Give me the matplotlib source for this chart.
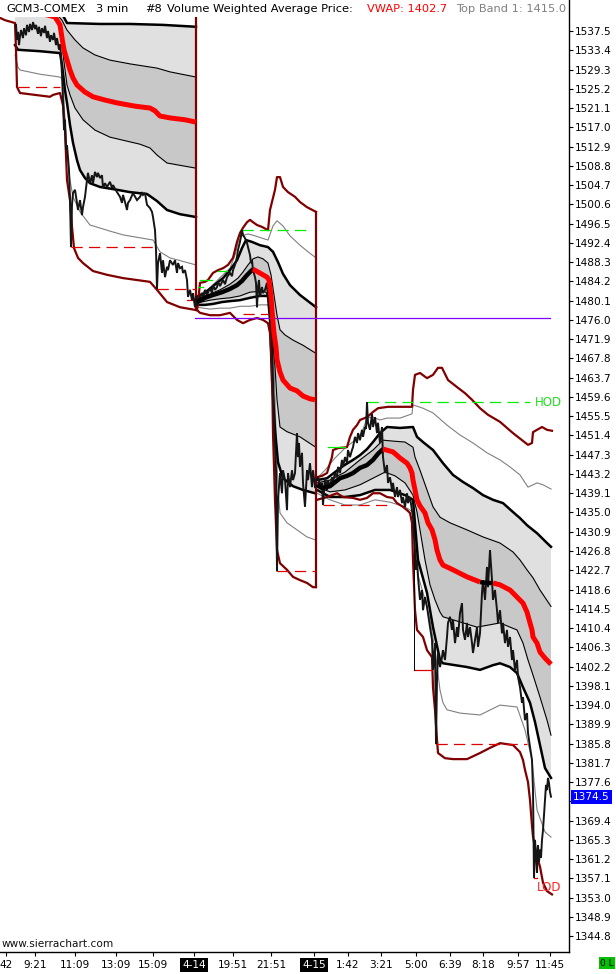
import matplotlib
matplotlib.use("Agg")
import matplotlib.pyplot as plt
from matplotlib.patches import Rectangle

plt.rcParams['font.family'] = ['DejaVu Sans']

# ---------------- axis / labels ----------------
Y_MIN, Y_MAX = 1341.44, 1544.10
Y_TICKS = [1344.8, 1348.9, 1353.0, 1357.1, 1361.2, 1365.3, 1369.4, 1373.5, 1377.6, 1381.7,
           1385.8, 1389.9, 1394.0, 1398.1, 1402.2, 1406.3, 1410.4, 1414.5, 1418.6, 1422.7,
           1426.8, 1430.9, 1435.0, 1439.1, 1443.2, 1447.3, 1451.4, 1455.5, 1459.6, 1463.7,
           1467.8, 1471.9, 1476.0, 1480.1, 1484.2, 1488.3, 1492.4, 1496.5, 1500.6, 1504.7,
           1508.8, 1512.9, 1517.0, 1521.1, 1525.2, 1529.3, 1533.4, 1537.5]
X_TICK_POS = [6, 35, 75, 116, 153, 194, 233, 271, 314, 348, 381, 416, 450, 483, 518, 550]
X_TICK_LAB = ['42', '9:21', '11:09', '13:09', '15:09', '4-14', '19:51', '21:51', '4-15',
              '1:42', '3:21', '5:00', '6:39', '8:18', '9:57', '11:45']
LAST_PRICE = 1374.5
VWAP_LAST = 1402.7
TOPBAND_LAST = 1415.0

# ---------------- segment 1 ----------------
S1_X_TOP2 = [15, 60, 67, 100, 130, 163, 196]
S1_P_TOP2 = [1543.0, 1542.0, 1539.2, 1539.0, 1539.0, 1538.8, 1538.4]
S1_X_TOP1 = [15, 55, 62, 67, 75, 83, 95, 110, 130, 157, 170, 196]
S1_P_TOP1 = [1542.4, 1541.5, 1539.8, 1537.7, 1535.6, 1533.9, 1532.4, 1531.3, 1530.5, 1529.6, 1528.8, 1527.7]
S1_X_VWAP = [15, 40, 55, 60, 62, 64, 67, 70, 73, 77, 85, 93, 105, 117, 135, 150, 155, 160, 170, 185, 196]
S1_P_VWAP = [1541.5, 1541.3, 1540.5, 1538.8, 1536.0, 1533.5, 1531.3, 1529.2, 1527.5, 1526.0, 1524.5,
             1523.5, 1522.8, 1522.2, 1521.5, 1521.1, 1520.5, 1519.4, 1519.0, 1518.6, 1518.1]
S1_X_BOT1 = [15, 40, 56, 60, 62, 64, 67, 70, 75, 83, 95, 110, 140, 150, 157, 167, 196]
S1_P_BOT1 = [1541.1, 1540.9, 1540.3, 1538.1, 1534.5, 1530.9, 1526.0, 1523.9, 1521.1, 1518.6, 1516.4,
             1514.9, 1513.4, 1512.6, 1511.1, 1509.4, 1508.3]
S1_X_BOT2 = [15, 18, 40, 60, 62, 65, 67, 70, 73, 77, 80, 85, 90, 100, 117, 130, 147, 157, 167, 180, 196]
S1_P_BOT2 = [1534.5, 1533.5, 1533.2, 1532.8, 1530.3, 1524.9, 1522.2, 1517.5, 1513.7, 1510.0, 1507.9,
             1506.2, 1505.1, 1504.3, 1503.7, 1503.2, 1502.8, 1501.3, 1499.4, 1498.5, 1497.9]
S1_X_BOT3 = [15, 18, 20, 40, 60, 63, 65, 67, 70, 73, 80, 90, 110, 123, 153, 160, 170, 196]
S1_P_BOT3 = [1532.4, 1529.8, 1529.2, 1528.3, 1527.7, 1527.1, 1518.6, 1511.5, 1505.8, 1502.2, 1499.0,
             1496.2, 1494.9, 1494.1, 1493.0, 1490.5, 1489.2, 1487.7]
S1_X_LOW = [0, 5, 15, 16, 17, 20, 50, 53, 60, 63, 65, 67, 70, 72, 74, 78, 83, 93, 107, 123, 150, 157, 167, 180, 196]
S1_P_LOW = [1540.3, 1539.8, 1539.2, 1533.5, 1525.6, 1524.3, 1523.5, 1523.9, 1524.3, 1521.7, 1516.4,
            1505.8, 1501.5, 1495.8, 1491.3, 1489.2, 1488.1, 1486.4, 1485.6, 1484.9, 1484.1, 1482.4,
            1479.8, 1478.7, 1478.1]
S1_X_PRICE = [16, 17, 18, 19, 20, 21, 23, 24, 26, 27, 29, 30, 32, 33, 35, 36, 38, 39, 41, 42, 44, 45,
              47, 48, 50, 51, 53, 54, 56, 57, 59, 60, 61, 62, 63, 64, 65, 66, 67, 69, 70, 71, 72, 73,
              75, 77, 78, 80, 82, 83, 85, 87, 88, 90, 92, 93, 95, 97, 98, 100, 102, 103, 105, 107,
              110, 112, 113, 117, 120, 122, 123, 125, 127, 128, 130, 133, 137, 140, 142, 143, 145,
              147, 150, 152, 153, 155, 156, 157, 158, 160, 162, 163, 165, 167, 168, 170, 173, 175,
              177, 178, 180, 182, 183, 185, 187, 188, 190, 192, 193, 195, 196]
S1_P_PRICE = [1538.8, 1535.6, 1537.3, 1534.5, 1536.4, 1537.7, 1536.0, 1538.1, 1536.6, 1538.8, 1537.3,
              1539.0, 1537.7, 1539.4, 1537.9, 1538.8, 1536.9, 1538.4, 1536.4, 1538.1, 1537.1, 1538.6,
              1536.0, 1537.5, 1535.2, 1536.6, 1535.6, 1537.1, 1534.5, 1536.0, 1533.5, 1534.7, 1532.4,
              1528.1, 1522.8, 1516.4, 1518.6, 1512.2, 1513.2, 1507.9, 1501.5, 1491.5, 1500.5, 1503.0,
              1503.7, 1500.9, 1499.4, 1501.5, 1498.3, 1500.0, 1502.2, 1505.8, 1507.3, 1505.1, 1506.8,
              1505.1, 1507.5, 1506.4, 1507.3, 1506.2, 1506.8, 1504.1, 1505.1, 1504.3, 1505.4, 1504.1,
              1504.7, 1503.2, 1502.2, 1500.9, 1502.6, 1501.1, 1499.4, 1500.9, 1501.5, 1503.0, 1501.5,
              1502.2, 1503.2, 1502.6, 1503.0, 1500.5, 1499.8, 1499.0, 1497.9, 1495.1, 1490.9, 1482.6,
              1488.1, 1490.2, 1486.0, 1488.7, 1485.1, 1487.3, 1486.6, 1488.7, 1487.7, 1488.7, 1486.0,
              1488.1, 1487.0, 1487.3, 1486.0, 1486.6, 1484.5, 1480.9, 1482.4, 1480.2, 1481.7, 1478.7,
              1480.9]

# ---------------- segment 2 ----------------
S2_X_VWAP_UP = [197, 205, 213, 222, 230, 237, 242, 246, 250, 253]
S2_P_VWAP_UP = [1479.8, 1480.7, 1481.3, 1481.9, 1482.6, 1483.4, 1484.3, 1485.3, 1486.2, 1486.8]
S2_X_VWAP_DN = [253, 258, 263, 267, 269, 270, 271, 272, 273, 274, 276, 277, 280, 283, 290, 297, 303, 310, 315]
S2_P_VWAP_DN = [1486.8, 1486.2, 1485.6, 1485.1, 1484.5, 1482.8, 1480.9, 1478.1, 1475.5, 1473.2, 1470.2,
                1467.5, 1464.9, 1463.2, 1461.5, 1460.9, 1459.8, 1459.2, 1459.0]
S2_X_TOP2 = [197, 205, 213, 223, 230, 237, 242, 246, 252, 260, 268, 273, 278, 283, 290, 300, 308, 316]
S2_P_TOP2 = [1480.9, 1481.7, 1483.2, 1484.9, 1486.6, 1488.7, 1491.3, 1493.0, 1492.6, 1491.9, 1491.5,
             1490.5, 1488.3, 1485.8, 1483.4, 1481.3, 1480.0, 1478.7]
S2_X_TOP3 = [197, 210, 220, 230, 235, 238, 242, 248, 255, 262, 268, 273, 277, 283, 290, 300, 308, 316]
S2_P_TOP3 = [1481.1, 1482.8, 1485.0, 1487.0, 1489.8, 1492.4, 1493.9, 1494.3, 1493.9, 1493.4, 1493.0,
             1496.0, 1497.1, 1496.0, 1493.9, 1491.9, 1490.5, 1489.2]
S2_X_TOP1 = [197, 210, 220, 230, 238, 243, 248, 253, 258, 263, 268, 271, 274, 277, 280, 285, 293, 303, 315]
S2_P_TOP1 = [1480.5, 1481.5, 1482.4, 1483.6, 1484.9, 1486.2, 1487.7, 1489.0, 1489.4, 1489.0, 1488.1,
             1485.6, 1481.3, 1477.0, 1473.9, 1472.8, 1471.7, 1470.6, 1469.0]
S2_X_BOT1 = [197, 210, 220, 230, 240, 250, 260, 266, 269, 271, 272, 275, 277, 280, 287, 300, 315]
S2_P_BOT1 = [1479.6, 1480.2, 1480.5, 1480.7, 1481.1, 1481.9, 1482.1, 1481.9, 1480.2, 1476.4, 1473.2,
             1466.0, 1459.0, 1453.2, 1452.2, 1451.1, 1449.0]
S2_X_BOT2 = [197, 205, 213, 222, 230, 240, 250, 260, 268, 270, 272, 275, 278, 283, 293, 303, 315]
S2_P_BOT2 = [1479.2, 1479.2, 1479.4, 1479.8, 1480.0, 1480.2, 1480.7, 1481.1, 1481.1, 1476.0, 1463.2,
             1452.6, 1445.7, 1442.3, 1440.6, 1439.8, 1439.1]
S2_X_BOT3 = [197, 210, 220, 230, 240, 250, 260, 268, 272, 274, 276, 278, 280, 287, 297, 307, 315]
S2_P_BOT3 = [1478.7, 1478.3, 1478.5, 1478.5, 1478.9, 1478.9, 1479.2, 1479.2, 1476.0, 1466.0, 1452.0,
             1440.0, 1434.9, 1432.8, 1431.3, 1429.8, 1429.2]
S2_X_HIGH = [197, 198, 200, 205, 208, 213, 218, 223, 228, 233, 237, 240, 243, 247, 250, 253, 257, 262,
             268, 270, 275, 277, 280, 283, 288, 295, 300, 307, 316]
S2_P_HIGH = [1478.1, 1479.6, 1483.9, 1484.1, 1484.5, 1486.0, 1486.6, 1487.0, 1487.7, 1489.2, 1492.6,
             1494.5, 1495.6, 1496.8, 1497.3, 1496.8, 1496.2, 1495.8, 1495.1, 1499.4, 1503.7, 1506.4,
             1506.4, 1504.3, 1503.2, 1502.2, 1501.1, 1500.0, 1499.0]
S2_X_LOW = [197, 200, 210, 220, 230, 237, 243, 250, 257, 263, 268, 270, 272, 273, 275, 277, 280, 287,
            293, 300, 307, 313, 316]
S2_P_LOW = [1478.1, 1477.5, 1477.0, 1477.0, 1477.5, 1476.0, 1475.3, 1476.0, 1476.4, 1476.0, 1475.3,
            1473.2, 1466.0, 1451.9, 1437.7, 1427.0, 1424.2, 1422.8, 1421.3, 1420.6, 1420.0, 1419.1, 1419.1]
S2_X_PRICE = [197, 198, 200, 202, 203, 205, 207, 210, 212, 213, 215, 217, 218, 220, 223, 225, 227, 230,
              232, 233, 235, 237, 238, 240, 242, 243, 245, 247, 248, 250, 251, 252, 253, 255, 256, 257,
              258, 259, 260, 262, 263, 265, 267, 268, 270, 271, 272, 273, 274, 275, 276, 277, 278, 280,
              282, 283, 285, 287, 288, 290, 292, 293, 295, 297, 298, 299, 300, 302, 303, 305, 307, 308,
              310, 312, 313, 315]
S2_P_PRICE = [1479.2, 1480.2, 1480.9, 1481.7, 1480.7, 1482.4, 1481.3, 1482.8, 1481.7, 1483.4, 1482.4,
              1483.0, 1484.1, 1483.2, 1484.5, 1483.6, 1485.1, 1486.0, 1485.3, 1486.6, 1487.7, 1489.4,
              1490.9, 1492.6, 1495.1, 1494.1, 1493.4, 1492.4, 1491.5, 1489.8, 1488.1, 1488.7, 1486.6,
              1485.1, 1483.9, 1478.7, 1483.0, 1484.5, 1480.9, 1483.0, 1481.7, 1482.4, 1483.9, 1480.2,
              1482.4, 1478.1, 1471.7, 1463.2, 1454.7, 1449.4, 1444.0, 1422.5, 1437.7, 1443.4, 1439.1,
              1444.0, 1441.9, 1435.5, 1443.4, 1440.4, 1444.0, 1441.9, 1443.4, 1451.9, 1446.8, 1449.8,
              1444.7, 1447.7, 1441.3, 1436.2, 1444.0, 1441.9, 1445.5, 1440.4, 1444.0, 1440.4]

# ---------------- segment 3 ----------------
S3_X_VWAP_UP1 = [317, 322, 330, 340, 347, 353, 360, 367, 373, 378, 383]
S3_P_VWAP_UP1 = [1440.9, 1440.2, 1440.6, 1442.3, 1442.8, 1443.4, 1444.5, 1445.1, 1446.2, 1447.5, 1448.5]
S3_X_VWAP_DN1 = [383, 393, 400, 407, 410, 412, 413, 415, 417, 420, 425, 428, 432, 435, 437, 440, 443, 453, 467, 480]
S3_P_VWAP_DN1 = [1448.5, 1447.9, 1446.6, 1445.5, 1444.5, 1443.4, 1441.9, 1439.8, 1437.7, 1436.4, 1434.9,
                 1432.8, 1431.3, 1429.2, 1427.0, 1424.9, 1423.8, 1422.8, 1421.3, 1420.2]
S3_X_VWAP_UP2 = [480, 487, 493]
S3_P_VWAP_UP2 = [1420.2, 1420.0, 1420.0]
S3_X_VWAP_DN2 = [493, 500, 510, 517, 523, 527, 530, 532, 533, 537, 540, 545, 551]
S3_P_VWAP_DN2 = [1420.0, 1419.6, 1418.5, 1417.0, 1415.7, 1413.8, 1411.5, 1410.0, 1408.5, 1407.2, 1405.3,
                 1404.0, 1402.7]
S3_X_TOP2 = [317, 327, 335, 343, 353, 360, 367, 373, 380, 387, 400, 413, 417, 423, 433, 443, 453, 463,
             473, 483, 493, 503, 513, 520, 527, 537, 547, 551]
S3_P_TOP2 = [1441.9, 1442.3, 1443.6, 1444.9, 1446.2, 1447.2, 1448.5, 1450.0, 1451.9, 1453.2, 1453.0,
             1453.2, 1451.1, 1450.0, 1448.3, 1445.5, 1443.0, 1441.5, 1440.2, 1438.7, 1437.7, 1437.0,
             1435.1, 1433.8, 1432.3, 1430.6, 1428.5, 1427.7]
S3_X_TOP3 = [317, 325, 335, 345, 355, 362, 367, 373, 380, 387, 400, 412, 413, 423, 433, 447, 460, 473,
             487, 500, 510, 520, 528, 533, 537, 543, 551]
S3_P_TOP3 = [1442.3, 1444.0, 1446.6, 1448.7, 1450.4, 1452.1, 1455.1, 1455.3, 1454.7, 1455.1, 1455.1,
             1456.0, 1457.9, 1457.2, 1456.2, 1453.6, 1451.5, 1449.8, 1447.7, 1446.2, 1444.7, 1443.0,
             1440.4, 1440.9, 1441.3, 1440.9, 1440.0]
S3_X_TOP1 = [317, 330, 345, 360, 373, 383, 393, 405, 413, 415, 420, 427, 433, 440, 450, 467, 483, 500,
             513, 520, 527, 533, 540, 551]
S3_P_TOP1 = [1441.3, 1441.9, 1443.6, 1446.2, 1448.3, 1450.4, 1450.2, 1450.0, 1448.9, 1446.8, 1444.0,
             1439.8, 1436.2, 1434.0, 1432.8, 1431.3, 1429.8, 1428.5, 1426.6, 1424.9, 1422.8, 1421.1,
             1418.5, 1415.0]
S3_X_BOT1 = [317, 330, 345, 360, 373, 385, 395, 405, 413, 417, 420, 425, 430, 435, 440, 443, 460, 477,
             490, 500, 510, 517, 523, 528, 533, 540, 547, 551]
S3_P_BOT1 = [1440.4, 1439.4, 1439.8, 1440.9, 1442.3, 1443.6, 1442.8, 1441.3, 1438.7, 1435.1, 1431.3,
             1424.9, 1419.6, 1416.4, 1413.8, 1412.8, 1411.7, 1410.6, 1411.1, 1411.5, 1410.6, 1410.0,
             1407.2, 1403.6, 1400.4, 1395.7, 1390.8, 1387.6]
S3_X_BOT2 = [317, 330, 345, 360, 375, 390, 405, 413, 418, 427, 433, 440, 443, 467, 480, 493, 500, 510,
             517, 523, 530, 535, 540, 545, 551]
S3_P_BOT2 = [1439.8, 1438.3, 1438.3, 1438.7, 1439.8, 1439.8, 1438.7, 1437.7, 1424.9, 1417.9, 1410.6,
             1403.6, 1402.9, 1402.1, 1401.5, 1402.5, 1402.9, 1402.1, 1400.8, 1397.8, 1394.5, 1390.4,
             1385.5, 1380.6, 1378.5]
S3_X_BOT3 = [317, 330, 345, 360, 375, 390, 405, 413, 418, 425, 430, 435, 440, 443, 447, 460, 480, 500,
             517, 525, 532, 537, 545, 551]
S3_P_BOT3 = [1439.1, 1437.7, 1436.6, 1436.6, 1437.7, 1437.2, 1436.2, 1435.1, 1421.7, 1416.4, 1412.1,
             1405.7, 1397.2, 1394.5, 1393.0, 1392.3, 1391.9, 1394.0, 1393.6, 1388.7, 1382.3, 1371.7,
             1367.0, 1365.9]
S3_X_HIGH = [317, 322, 327, 330, 332, 333, 338, 347, 350, 353, 357, 360, 367, 373, 378, 388, 400, 412,
             413, 415, 420, 427, 433, 438, 442, 448, 457, 465, 472, 480, 488, 500, 507, 513, 522, 528,
             532, 533, 537, 542, 547, 552]
S3_P_HIGH = [1442.5, 1442.8, 1443.4, 1445.5, 1446.8, 1448.3, 1448.7, 1448.9, 1451.1, 1452.6, 1453.6,
             1454.7, 1455.3, 1456.4, 1457.2, 1457.5, 1457.5, 1457.5, 1461.1, 1464.3, 1464.7, 1463.6,
             1464.3, 1465.8, 1465.8, 1463.2, 1461.7, 1460.4, 1459.0, 1457.2, 1455.8, 1454.3, 1453.0,
             1451.9, 1450.4, 1449.4, 1449.8, 1452.1, 1452.6, 1453.2, 1452.6, 1452.4]
S3_X_LOW = [317, 327, 337, 343, 353, 360, 367, 373, 380, 387, 393, 397, 400, 403, 407, 410, 412, 413,
            415, 417, 423, 427, 432, 433, 435, 437, 438, 445, 453, 467, 480, 490, 500, 513, 520, 523,
            525, 528, 530, 532, 533, 537, 540, 543, 547, 552]
S3_P_LOW = [1437.7, 1438.3, 1439.1, 1438.3, 1438.1, 1437.7, 1438.1, 1439.1, 1439.1, 1438.3, 1438.1,
            1437.0, 1436.6, 1436.2, 1435.5, 1434.9, 1432.8, 1424.9, 1414.2, 1410.0, 1408.5, 1405.7,
            1404.2, 1397.8, 1393.0, 1386.6, 1383.8, 1382.7, 1382.5, 1382.5, 1383.8, 1384.9, 1385.9,
            1385.5, 1384.0, 1382.3, 1380.2, 1377.6, 1373.8, 1368.3, 1366.0, 1361.7, 1359.6, 1356.2,
            1354.4, 1353.7]
S3_X_PRICE = [316, 318, 320, 322, 323, 325, 327, 328, 330, 332,
              333, 335, 337, 338, 340, 342, 343, 345, 347, 348,
              350, 352, 353, 355, 357, 358, 360, 362, 363, 365,
              366, 367, 368, 370, 372, 373, 375, 377, 378, 380,
              382, 383, 385, 387, 388, 390, 392, 393, 395, 397,
              398, 400, 402, 403, 405, 407, 408, 410, 412, 413,
              414, 415, 416, 417, 418, 420, 422, 423, 425, 427,
              430, 432, 433, 435, 436, 437, 438, 440, 442, 443,
              445, 447, 448, 450, 452, 453, 455, 457, 458, 460,
              462, 463, 465, 467, 468, 470, 472, 473, 475, 477,
              478, 480, 482, 483, 485, 487, 488, 490, 492, 493,
              495, 497, 498, 500, 502, 503, 505, 507, 508, 510,
              512, 513, 515, 517, 518, 520, 522, 523, 525, 527,
              528, 530, 532, 533, 534, 535, 536, 537, 538, 539,
              540, 541, 542, 543, 544, 545, 546, 547, 548, 549,
              550, 551]
S3_P_PRICE = [1441.9, 1442.5, 1440.9, 1441.3, 1436.6, 1442.3, 1439.8, 1441.9, 1440.4, 1442.5,
              1441.5, 1443.4, 1442.5, 1444.7, 1443.4, 1446.2, 1444.7, 1446.8, 1445.5, 1448.3,
              1446.8, 1448.3, 1448.9, 1451.1, 1449.8, 1451.9, 1450.4, 1452.6, 1451.1, 1453.2,
              1452.8, 1458.5, 1454.1, 1452.6, 1456.0, 1453.2, 1455.3, 1451.9, 1454.1, 1449.8,
              1453.2, 1446.8, 1443.4, 1445.1, 1441.3, 1442.5, 1439.8, 1441.3, 1438.3, 1440.4,
              1438.3, 1439.8, 1437.0, 1438.3, 1436.2, 1439.1, 1437.0, 1438.3, 1435.5, 1434.0,
              1429.8, 1427.0, 1422.8, 1424.9, 1421.3, 1416.4, 1418.5, 1414.2, 1417.0, 1414.9,
              1410.6, 1407.9, 1401.5, 1407.2, 1385.7, 1399.3, 1405.1, 1402.1, 1404.2, 1405.7,
              1403.6, 1408.5, 1411.5, 1412.8, 1410.0, 1412.1, 1407.2, 1410.6, 1408.5, 1413.6,
              1415.7, 1410.0, 1407.9, 1411.5, 1408.5, 1410.6, 1407.2, 1405.1, 1407.9, 1410.6,
              1406.4, 1409.3, 1417.9, 1420.6, 1416.4, 1423.4, 1419.1, 1427.0, 1420.6, 1416.4,
              1418.5, 1414.2, 1411.5, 1414.2, 1409.3, 1411.5, 1407.2, 1410.0, 1406.4, 1408.5,
              1403.6, 1405.7, 1401.5, 1403.6, 1400.0, 1397.8, 1394.5, 1395.7, 1390.8, 1392.3,
              1388.1, 1385.1, 1382.3, 1375.9, 1357.2, 1365.3, 1362.1, 1358.3, 1364.2, 1360.6,
              1363.2, 1361.5, 1365.3, 1367.4, 1370.6, 1373.8, 1377.0, 1375.9, 1378.5, 1377.4,
              1375.5, 1374.5]

# ---------------- markers (x0, x1, price) ----------------
LOD_DASHED = [(18, 60, 1525.6), (71, 157, 1491.5), (157, 196, 1482.6), (243, 268, 1477.3),
              (277, 316, 1422.5), (323, 393, 1436.6), (436, 527, 1385.7)]
LOD_SOLID = [(414, 432, 1401.5), (534, 537, 1357.2), (187, 195, 1480.2)]
HOD_DASHED = [(242, 310, 1495.1), (367, 530, 1458.5)]
HOD_SOLID = [(198, 203, 1483.0), (200, 212, 1484.5), (218, 227, 1486.4), (328, 345, 1448.9)]
PURPLE_LEVEL = (195, 550, 1476.3)

# ---------------- figure ----------------
W, H = 616, 974
fig = plt.figure(figsize=(W / 100, H / 100), dpi=100)
fig.patch.set_facecolor('white')
ax = fig.add_axes([0, 1 - 952 / H, 569 / W, 952 / H])
ax.set_xlim(0, 569)
ax.set_ylim(Y_MIN, Y_MAX)
ax.set_facecolor('white')

LIGHT = '#e0e0e0'
DARK = '#c8c8c8'
MAROON = '#800000'


def poly(xt, pt, xb, pb, color, z):
    xs = list(xt) + list(xb)[::-1]
    ys = list(pt) + list(pb)[::-1]
    ax.fill(xs, ys, color=color, lw=0, zorder=z)


segs = [
    (S1_X_TOP2, S1_P_TOP2, S1_X_TOP1, S1_P_TOP1, S1_X_BOT1, S1_P_BOT1, S1_X_BOT2, S1_P_BOT2),
    (S2_X_TOP2, S2_P_TOP2, S2_X_TOP1, S2_P_TOP1, S2_X_BOT1, S2_P_BOT1, S2_X_BOT2, S2_P_BOT2),
    (S3_X_TOP2, S3_P_TOP2, S3_X_TOP1, S3_P_TOP1, S3_X_BOT1, S3_P_BOT1, S3_X_BOT2, S3_P_BOT2),
]
for xt2, pt2, xt1, pt1, xb1, pb1, xb2, pb2 in segs:
    poly(xt2, pt2, xb2, pb2, LIGHT, 1)
    poly(xt1, pt1, xb1, pb1, DARK, 1.1)
    ax.plot(xt2, pt2, color='black', lw=1.8, zorder=3)
    ax.plot(xb2, pb2, color='black', lw=1.8, zorder=3)
    ax.plot(xt1, pt1, color='black', lw=0.8, zorder=3)
    ax.plot(xb1, pb1, color='black', lw=0.8, zorder=3)

# band 3 (gray)
for xs, ps in [(S1_X_BOT3, S1_P_BOT3), (S2_X_TOP3, S2_P_TOP3), (S2_X_BOT3, S2_P_BOT3),
               (S3_X_TOP3, S3_P_TOP3), (S3_X_BOT3, S3_P_BOT3)]:
    ax.plot(xs, ps, color='#808080', lw=0.8, zorder=2.5)

# maroon envelopes
for xs, ps in [(S1_X_LOW, S1_P_LOW), (S2_X_HIGH, S2_P_HIGH), (S2_X_LOW, S2_P_LOW),
               (S3_X_HIGH, S3_P_HIGH), (S3_X_LOW, S3_P_LOW)]:
    ax.plot(xs, ps, color=MAROON, lw=1.6, zorder=4, solid_joinstyle='round')
ax.plot([196, 196], [S1_P_LOW[-1], Y_MAX + 5], color=MAROON, lw=1.6, zorder=4)
ax.plot([316, 316], [S2_P_LOW[-1], S2_P_HIGH[-1]], color=MAROON, lw=1.6, zorder=4)

# markers
for x0, x1, p in LOD_DASHED:
    ax.plot([x0, x1], [p, p], color='#dd0000', lw=0.9, dashes=(9, 5), zorder=4.5)
for x0, x1, p in LOD_SOLID:
    ax.plot([x0, x1], [p, p], color='#dd0000', lw=0.9, zorder=4.5)
for x0, x1, p in HOD_DASHED:
    ax.plot([x0, x1], [p, p], color='#00ee00', lw=0.9, dashes=(9, 5), zorder=4.5)
for x0, x1, p in HOD_SOLID:
    ax.plot([x0, x1], [p, p], color='#00ee00', lw=0.9, zorder=4.5)
ax.plot([PURPLE_LEVEL[0], PURPLE_LEVEL[1]], [PURPLE_LEVEL[2]] * 2, color='#8000ff', lw=0.9, zorder=4.6)
ax.plot([414, 414], [S3_P_PRICE[59], LOD_SOLID[0][2]], color='black', lw=0.7, zorder=4.5)

# price
for xs, ps in [(S1_X_PRICE, S1_P_PRICE), (S2_X_PRICE, S2_P_PRICE), (S3_X_PRICE, S3_P_PRICE)]:
    ax.plot(xs, ps, color='#151515', lw=1.4, zorder=5, solid_joinstyle='miter')

# VWAP (red when falling, black when rising)
for xs, ps in [(S2_X_VWAP_UP, S2_P_VWAP_UP), (S3_X_VWAP_UP1, S3_P_VWAP_UP1), (S3_X_VWAP_UP2, S3_P_VWAP_UP2)]:
    ax.plot(xs, ps, color='black', lw=3.2, zorder=6, solid_capstyle='butt')
for xs, ps in [(S1_X_VWAP, S1_P_VWAP), (S2_X_VWAP_DN, S2_P_VWAP_DN), (S3_X_VWAP_DN1, S3_P_VWAP_DN1),
               (S3_X_VWAP_DN2, S3_P_VWAP_DN2)]:
    ax.plot(xs, ps, color='#ff0000', lw=3.6, zorder=6, solid_capstyle='butt')

# HOD / LOD labels
ax.text(535, HOD_DASHED[1][2], 'HOD', color='#22dd22', fontsize=8.5, va='center', ha='left', zorder=7)
ax.text(537, 1355.1, 'LOD', color='#ff2020', fontsize=8.5, va='center', ha='left', zorder=7)

# ---------------- axes styling ----------------
for s in ['top', 'left']:
    ax.spines[s].set_visible(False)
ax.spines['right'].set_linewidth(1.0)
ax.spines['bottom'].set_linewidth(1.0)
ax.yaxis.tick_right()
ax.set_yticks(Y_TICKS)
# the 1373.5 label sits under the last-price box in the reference
ax.set_yticklabels(['' if abs(v - LAST_PRICE) < 2 else f'{v:.1f}' for v in Y_TICKS])
ax.tick_params(axis='y', direction='out', length=3, width=0.8, pad=1, labelsize=7.6)
ax.set_xticks(X_TICK_POS)
ax.set_xticklabels(X_TICK_LAB)
ax.tick_params(axis='x', direction='out', length=3, width=0.8, pad=2.5, labelsize=7.6)
for lab in ax.get_xticklabels():
    if lab.get_text() in ('4-14', '4-15'):
        lab.set_color('white')
        lab.set_bbox(dict(boxstyle='square,pad=0.18', fc='black', ec='none'))

# header white strip
ax.add_patch(Rectangle((0, 1 - 17 / 952), 0.998, 17 / 952, transform=ax.transAxes,
                       fc='white', ec='none', zorder=20, clip_on=False))
hy = 1 - 9 / H
for txt, x, col in [('GCM3-COMEX', 6, 'black'), ('3 min', 96, 'black'), ('#8', 145, 'black'),
                    ('Volume Weighted Average Price:', 167, 'black'),
                    (f'VWAP: {VWAP_LAST:.1f}', 367, '#ff0000'),
                    (f'Top Band 1: {TOPBAND_LAST:.1f}', 456, '#808080')]:
    fig.text(x / W, hy, txt, color=col, fontsize=8.2, va='center', ha='left')

# last price box
ax.annotate(f'{LAST_PRICE:.1f}', xy=(1.0, LAST_PRICE), xycoords=('axes fraction', 'data'),
            xytext=(3, 0), textcoords='offset points', ha='left', va='center', fontsize=7.6,
            color='white', zorder=30, annotation_clip=False,
            bbox=dict(boxstyle='square,pad=0.2', fc='#0000ff', ec='none'))

fig.text(2 / W, 1 - 944 / H, 'www.sierrachart.com', fontsize=7.6, color='#101010', va='center', ha='left')
fig.text(607 / W, 1 - 963 / H, '0 L', fontsize=6.5, color='black', va='center', ha='center',
         bbox=dict(boxstyle='square,pad=0.15', fc='#00c000', ec='none'))

fig.savefig('out.png', dpi=100, facecolor='white')
